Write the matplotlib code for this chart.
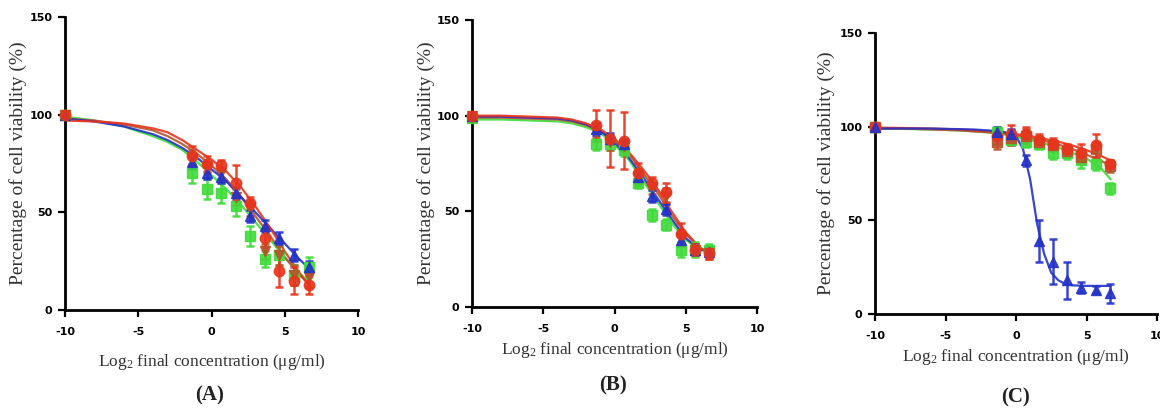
import matplotlib
matplotlib.use("Agg")
import matplotlib.pyplot as plt

# ---------------- data ----------------
X_PTS = [-10, -1.32, -0.32, 0.68, 1.64, 2.64, 3.64, 4.64, 5.64, 6.64]
CURVE_X = [-10, -8, -6, -4, -3, -2, -1, 0, 1, 2, 3, 4, 5, 6, 6.7]
CURVE_X_C_BLUE = [-10, -6, -3, -1, 0, 0.5, 1, 1.5, 2, 2.5, 3, 3.5, 4, 5, 6.7]

# Panel A
A_red = [100, 79, 75, 74, 65, 55, 37, 20, 15, 13]
A_red_err = [2, 5, 4, 3, 9, 3, 5, 8, 7, 5]
A_blue = [100, 76, 70, 68, 60, 48, 43, 37, 28, 22]
A_blue_err = [2, 4, 3, 3, 3, 3, 3, 3, 3, 3]
A_green = [100, 70, 62, 60, 53, 38, 26, 28, 18, 22]
A_green_err = [2, 5, 5, 5, 5, 5, 4, 5, 5, 5]
A_brown = [100, 78, 73, 70, 58, 52, 30, 28, 18, 17]
A_brown_err = [2, 4, 3, 3, 4, 4, 4, 5, 5, 5]
A_red_curve = [97, 96.5, 95.5, 93, 91, 87, 82, 77, 71, 63, 53, 42, 30, 19, 12]
A_blue_curve = [98, 96.5, 94, 90, 87, 83, 78, 72, 66, 58, 50, 42, 34, 26, 21]
A_green_curve = [99, 97, 94, 89, 86, 82, 76, 69, 62, 54, 45, 36, 27, 19, 14]
A_brown_curve = [98, 97, 95, 92, 89, 85, 80, 74, 67, 58, 48, 38, 27, 18, 13]

# Panel B
B_red = [100, 95, 88, 87, 70, 65, 60, 38, 30, 28]
B_red_err = [2, 8, 15, 15, 5, 3, 5, 6, 3, 3]
B_blue = [100, 93, 88, 85, 68, 58, 51, 35, 30, 29]
B_blue_err = [2, 3, 3, 3, 3, 3, 3, 3, 3, 3]
B_green = [99, 85, 85, 82, 65, 48, 43, 30, 30, 30]
B_green_err = [2, 3, 3, 3, 3, 3, 3, 4, 4, 3]
B_brown = [100, 92, 86, 84, 68, 62, 58, 36, 30, 28]
B_brown_err = [2, 3, 4, 4, 4, 3, 4, 4, 3, 3]
B_red_curve = [100, 100, 99.5, 99, 98, 96, 93, 88, 81, 72, 62, 50, 39, 31, 28]
B_blue_curve = [99.5, 99.5, 99, 98.5, 97.5, 95.5, 92, 86, 78, 68, 57, 46, 36, 30, 29]
B_green_curve = [98, 98, 97.5, 97, 96, 94, 91, 85, 77, 66, 55, 44, 35, 30, 29]
B_brown_curve = [99, 99, 98.5, 98, 97, 95, 92, 87, 80, 70, 60, 48, 38, 31, 28]

# Panel C
C_red = [100, 95, 96, 96, 93, 91, 88, 86, 90, 80]
C_red_err = [2, 4, 5, 4, 3, 3, 3, 5, 6, 2]
C_blue = [100, 97, 96, 82, 39, 28, 18, 14, 13, 11]
C_blue_err = [2, 3, 3, 3, 11, 12, 10, 3, 2, 5]
C_green = [100, 97, 93, 92, 91, 86, 86, 82, 80, 67]
C_green_err = [2, 3, 3, 3, 3, 3, 3, 4, 3, 3]
C_brown = [100, 92, 94, 95, 92, 90, 87, 84, 88, 79]
C_brown_err = [2, 4, 4, 4, 3, 3, 3, 4, 4, 3]
C_red_curve = [99.5, 99.3, 99, 98.5, 98, 97.5, 97, 96, 95, 93.5, 92, 90, 87.5, 84.5, 82]
C_green_curve = [99, 98.8, 98.5, 98, 97.5, 97, 96, 94.5, 93, 91, 89, 86, 83, 78, 72]
C_brown_curve = [99, 99, 98.5, 98, 97.5, 97, 96.5, 95.5, 94, 92.5, 90.5, 88, 85, 82, 79]
C_blue_curve = [99, 99, 98.5, 97.5, 95, 88, 72, 48, 32, 22, 18, 16, 15.3, 15, 15]

Y_TICKS = [0, 50, 100, 150]
X_TICKS = [-10, -5, 0, 5, 10]
PANEL_LABELS = ["(A)", "(B)", "(C)"]
YLABEL = "Percentage of cell viability (%)"
XLABEL = r"Log$_2$ final concentration ($\mathrm{\mu}$g/ml)"

# ---------------- style ----------------
BLUE = "#2432c8"
RED = "#e8341c"
GREEN = "#3fdc3a"
BROWN = "#b8532c"

plt.rcParams["mathtext.fontset"] = "custom"
plt.rcParams["mathtext.rm"] = "Liberation Serif"
plt.rcParams["mathtext.it"] = "Liberation Serif:italic"
plt.rcParams["axes.unicode_minus"] = False

W, H = 1160, 408
fig = plt.figure(figsize=(W / 100, H / 100), dpi=100)

def frac(l, r, b, t):
    return [l / W, 1 - b / H, (r - l) / W, (b - t) / H]

panels = [
    dict(rect=frac(65, 358, 310, 17),
         series=[(A_green, A_green_err, A_green_curve, CURVE_X, GREEN, "s"),
                 (A_brown, A_brown_err, A_brown_curve, CURVE_X, BROWN, "v"),
                 (A_blue, A_blue_err, A_blue_curve, CURVE_X, BLUE, "^"),
                 (A_red, A_red_err, A_red_curve, CURVE_X, RED, "o")],
         ylab_x=18, xlab_y=362, plab=(210, 395)),
    dict(rect=frac(472, 757, 307, 20),
         series=[(B_green, B_green_err, B_green_curve, CURVE_X, GREEN, "s"),
                 (B_brown, B_brown_err, B_brown_curve, CURVE_X, BROWN, "v"),
                 (B_blue, B_blue_err, B_blue_curve, CURVE_X, BLUE, "^"),
                 (B_red, B_red_err, B_red_curve, CURVE_X, RED, "o")],
         ylab_x=426, xlab_y=350, plab=(613, 385)),
    dict(rect=frac(875, 1157, 314, 33),
         series=[(C_green, C_green_err, C_green_curve, CURVE_X, GREEN, "s"),
                 (C_brown, C_brown_err, C_brown_curve, CURVE_X, BROWN, "s"),
                 (C_red, C_red_err, C_red_curve, CURVE_X, RED, "o"),
                 (C_blue, C_blue_err, C_blue_curve, CURVE_X_C_BLUE, BLUE, "^")],
         ylab_x=826, xlab_y=357, plab=(1015, 397)),
]

for i, p in enumerate(panels):
    ax = fig.add_axes(p["rect"])
    for ys, es, cy, cx, col, mk in p["series"]:
        ax.plot(cx, cy, color=col, lw=1.6, zorder=2, alpha=0.9)
        ax.errorbar(X_PTS, ys, yerr=es, fmt=mk, color=col, ms=7.5,
                    elinewidth=1.8, capsize=3, capthick=1.8, zorder=3,
                    clip_on=False, alpha=0.9)
    ax.set_xlim(-10, 10)
    ax.set_ylim(0, 150)
    ax.set_xticks(X_TICKS)
    ax.set_yticks(Y_TICKS)
    for s in ["top", "right"]:
        ax.spines[s].set_visible(False)
    for s in ["left", "bottom"]:
        ax.spines[s].set_linewidth(2.0)
    ax.tick_params(direction="out", length=5, width=1.6, labelsize=8)
    ax.tick_params(axis="y", pad=4)
    ax.tick_params(axis="x", pad=7)
    for lab in ax.get_xticklabels() + ax.get_yticklabels():
        lab.set_fontweight("bold")
        lab.set_fontfamily("DejaVu Sans")
    ax.set_facecolor("none")
    l, b, w, h = p["rect"]
    fig.text(p["ylab_x"] / W, b + h / 2, YLABEL, rotation=90,
             ha="center", va="center", fontsize=14,
             family="Liberation Serif", color="#333333")
    fig.text(l + w / 2, 1 - p["xlab_y"] / H, XLABEL, ha="center",
             va="center", fontsize=12.5, family="Liberation Serif",
             color="#333333")
    fig.text(p["plab"][0] / W, 1 - p["plab"][1] / H, PANEL_LABELS[i],
             ha="center", va="center", fontsize=15, fontweight="bold",
             family="Liberation Serif", color="#222222")

fig.savefig("out.png", dpi=100)
